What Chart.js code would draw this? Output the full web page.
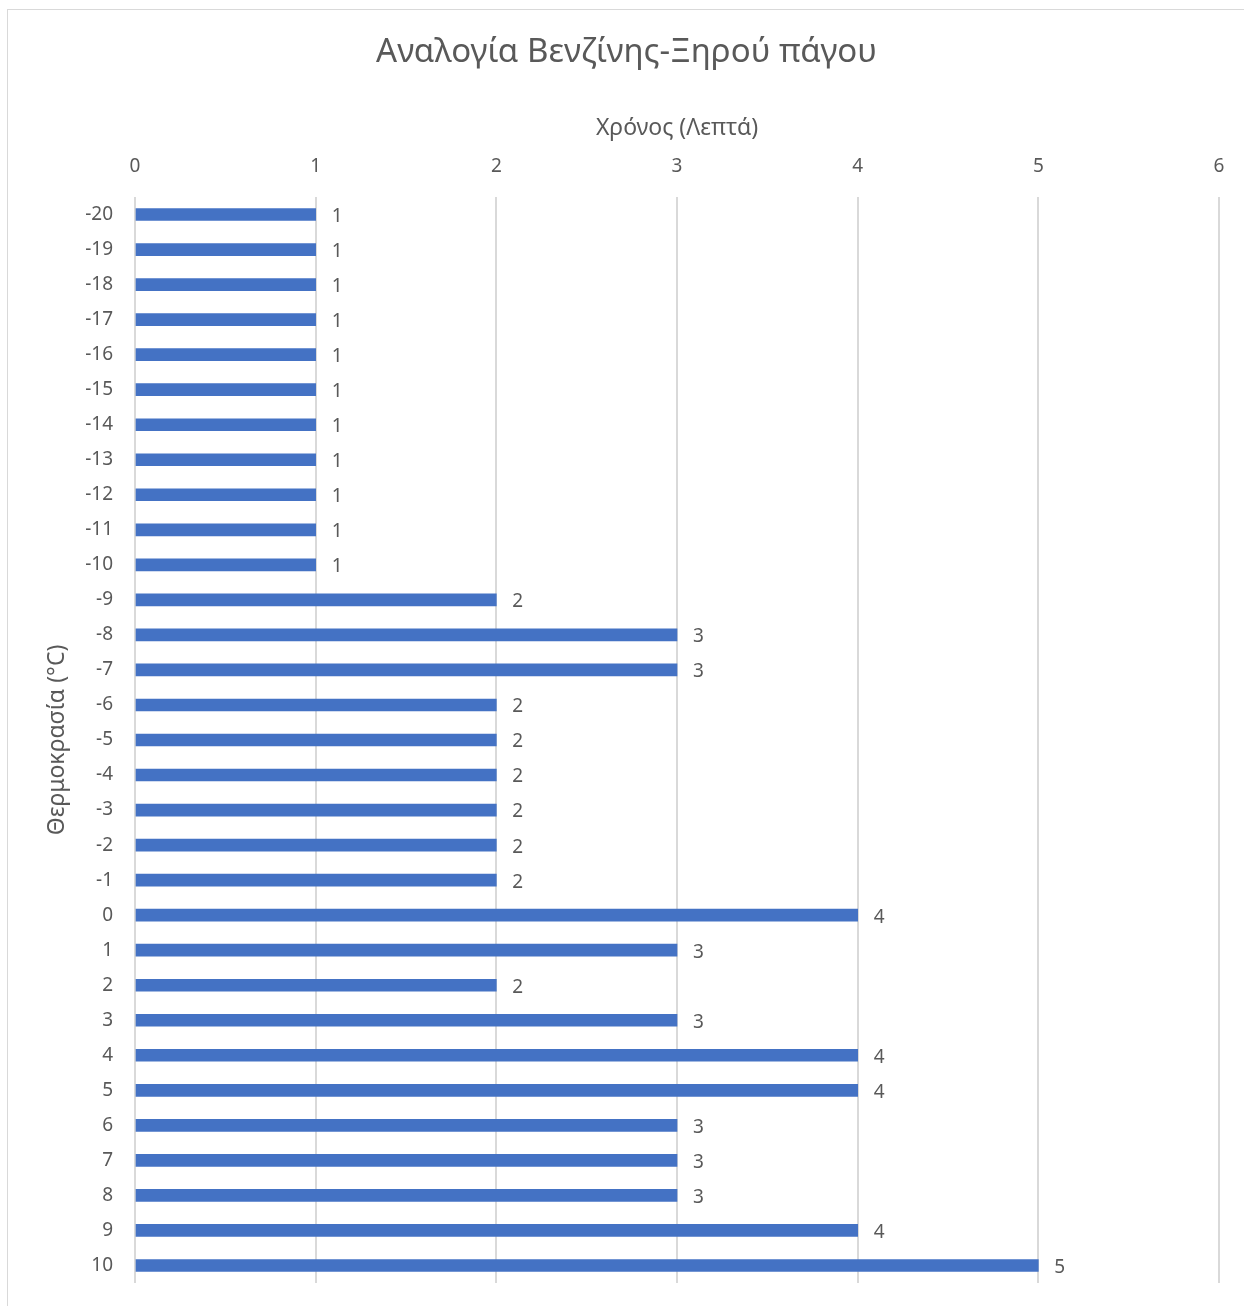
<!DOCTYPE html>
<html>
<head>
<meta charset="utf-8">
<title>Αναλογία Βενζίνης-Ξηρού πάγου</title>
<script src="https://cdn.jsdelivr.net/npm/chart.js@4/dist/chart.umd.min.js"></script>
<style>
  html, body { margin: 0; padding: 0; background: #ffffff; overflow: hidden; }
  #frame { position: absolute; left: 7px; top: 9px; width: 1300px; height: 1400px;
           border-left: 1px solid #d9d9d9; border-top: 1px solid #d9d9d9; }
  #chart { position: absolute; left: 0; top: 0; }
</style>
</head>
<body>
<div id="frame"></div>
<canvas id="chart" width="1244" height="1306"></canvas>
<script>
// Temperature (°C) categories, top to bottom
const temperatures = ['-20','-19','-18','-17','-16','-15','-14','-13','-12','-11','-10',
  '-9','-8','-7','-6','-5','-4','-3','-2','-1','0','1','2','3','4','5','6','7','8','9','10'];
// Time in minutes for each temperature
const minutes = [1,1,1,1,1,1,1,1,1,1,1,
  2,3,3,2,2,2,2,2,2,4,3,2,3,4,4,3,3,3,4,5];
const timeTicks = [0,1,2,3,4,5,6];

const FONT = "'Noto Sans', 'Open Sans', sans-serif";
const TEXT = '#595959';

// Writes each bar's value just past its end
const valueLabels = {
  id: 'valueLabels',
  afterDatasetsDraw(chart) {
    const ctx = chart.ctx;
    ctx.save();
    ctx.font = '19px ' + FONT;
    ctx.fillStyle = TEXT;
    ctx.textAlign = 'left';
    ctx.textBaseline = 'middle';
    chart.data.datasets.forEach((ds, di) => {
      chart.getDatasetMeta(di).data.forEach((bar, i) => {
        ctx.fillText(String(ds.data[i]), bar.x + 16, bar.y + 2);
      });
    });
    ctx.restore();
  }
};

new Chart(document.getElementById('chart'), {
  type: 'bar',
  data: {
    labels: temperatures,
    datasets: [{
      data: minutes,
      backgroundColor: '#4472c4',
      borderWidth: 0,
      barThickness: 12
    }]
  },
  plugins: [valueLabels],
  options: {
    indexAxis: 'y',
    responsive: false,
    animation: false,
    layout: { padding: { left: 34, right: 25, top: 0, bottom: 23 } },
    plugins: {
      legend: { display: false },
      tooltip: { enabled: false },
      title: {
        display: true,
        text: 'Αναλογία Βενζίνης-Ξηρού πάγου',
        color: TEXT,
        font: { family: FONT, size: 33, weight: 'normal', lineHeight: 1.2 },
        padding: { top: 33, bottom: 10 }
      }
    },
    scales: {
      x: {
        position: 'top',
        min: 0,
        max: 6,
        afterBuildTicks(scale) { scale.ticks = timeTicks.map(v => ({ value: v })); },
        afterFit(scale) { scale.height = 114.4; },
        ticks: { color: TEXT, font: { family: FONT, size: 19 }, padding: 19, maxRotation: 0 },
        grid: { color: '#d9d9d9', lineWidth: 2, drawTicks: false },
        border: { display: false },
        title: {
          display: true,
          text: 'Χρόνος (Λεπτά)',
          color: TEXT,
          font: { family: FONT, size: 23, lineHeight: 1.2 },
          padding: { top: 32, bottom: 0 }
        }
      },
      y: {
        afterFit(scale) {
          scale.width = 101;
          scale.paddingTop = 0;
          scale.paddingBottom = 0;
        },
        ticks: { color: TEXT, font: { family: FONT, size: 19 }, padding: 22, autoSkip: false },
        grid: { display: false, drawTicks: false },
        border: { display: false },
        title: {
          display: true,
          text: 'Θερμοκρασία (°C)',
          color: TEXT,
          font: { family: FONT, size: 23, lineHeight: 1.2 },
          padding: { top: 10, bottom: 0 }
        }
      }
    }
  }
});
</script>
</body>
</html>
